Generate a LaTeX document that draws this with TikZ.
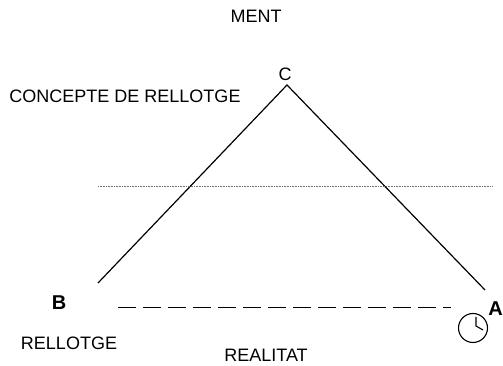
\documentclass[tikz,border=0pt]{standalone}
\usepackage{fontspec}
\setmainfont{Liberation Sans}
\tikzset{
  lbl/.style={inner sep=0pt,font=\fontsize{18}{21}\selectfont},
  vertexlbl/.style={inner sep=0pt,font=\fontsize{20}{23}\selectfont\bfseries},
  edge/.style={line width=1.2pt,draw=black},
  levelline/.style={line width=0.6pt,draw=black!55,dash pattern=on 1pt off 0.6pt},
  realline/.style={line width=1pt,draw=black,dash pattern=on 18pt off 7pt}
}
\begin{document}
\begin{tikzpicture}[x=1pt,y=1pt]
  \useasboundingbox (0,0) rectangle (503,366);
  \coordinate (apex) at (287,281);
  \coordinate (leftfoot) at (98,83);
  \coordinate (rightfoot) at (485,76);
  \coordinate (levelleft) at (98,180);
  \coordinate (levelright) at (493,180);
  \coordinate (realleft) at (118,58);
  \coordinate (realright) at (451,58);
  \node[lbl] (ment) at (256,350) {MENT};
  \node[lbl] (vertexc) at (285,292) {C};
  \node[lbl] (concepte) at (125,270) {CONCEPTE DE RELLOTGE};
  \node[vertexlbl] (vertexb) at (59,63) {B};
  \node[vertexlbl] (vertexa) at (495.5,57) {A};
  \node[lbl] (rellotge) at (69,23) {RELLOTGE};
  \node[lbl] (realitat) at (266,11) {REALITAT};
  \node[draw,circle,line width=1.1pt,minimum size=29pt,inner sep=0pt] (clock) at (473,38) {};
  \draw[edge] (leftfoot) -- (apex) -- (rightfoot);
  \draw[levelline] (levelleft) -- (levelright);
  \draw[realline] (realleft) -- (realright);
  \draw[line width=1.1pt] (476,49) -- (476,40) -- (483,36);
\end{tikzpicture}
\end{document}
